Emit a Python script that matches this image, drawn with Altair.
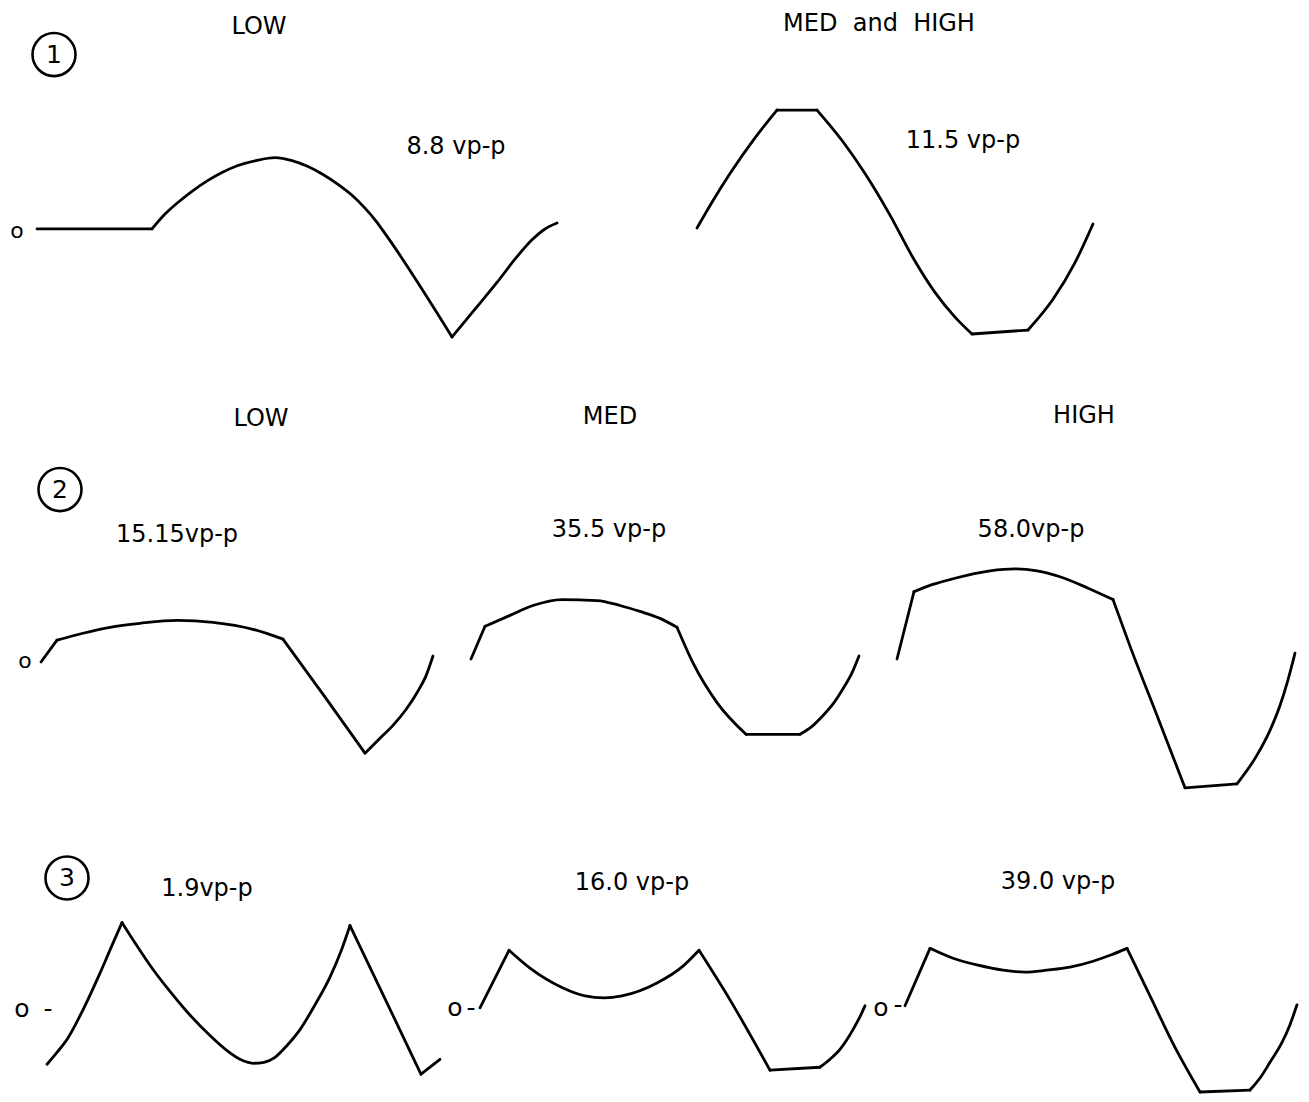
import altair as alt
import pandas as pd

# ---- Traced waveforms (horizontal position, vertical level) ----
r1_low_x = [37, 152, 165, 177, 192, 208, 222, 238, 256, 275, 292, 308, 323, 338, 352, 365, 376, 386,
            452, 475, 497, 517, 532, 545, 557]
r1_low_y = [229, 229, 214, 203, 191, 180, 172, 165, 160, 157, 160, 166, 174, 184, 195, 208, 221, 235,
            338, 310, 283, 257, 240, 229, 223]

r1_mh_x = [697, 712, 730, 755, 777, 817, 843, 865, 890, 913, 935, 955, 972, 1028, 1053, 1075, 1093]
r1_mh_y = [228, 202, 173, 137, 109, 109, 141, 173, 215, 258, 293, 318, 335, 331, 300, 263, 224]

r2_low_x = [41, 57, 83, 110, 140, 177, 213, 253, 283, 324, 365, 380, 393, 406, 417, 426, 433]
r2_low_y = [666, 644, 637, 631, 627, 624, 626, 633, 643, 700, 758, 743, 730, 714, 697, 680, 660]

r2_med_x = [471, 485, 510, 533, 562, 597, 620, 640, 660, 677, 693, 717, 746, 800, 812, 823, 834, 843, 852, 859]
r2_med_y = [663, 630, 619, 609, 603, 604, 609, 615, 622, 631, 667, 707, 739, 739, 731, 720, 707, 693, 677, 660]

r2_high_x = [897, 914, 932, 953, 990, 1015, 1037, 1060, 1087, 1113, 1130, 1157, 1185, 1237, 1257, 1270, 1280, 1288, 1295]
r2_high_y = [663, 595, 588, 582, 574, 572, 574, 580, 591, 603, 650, 720, 793, 789, 760, 735, 710, 684, 657]

r3_low_x = [47, 57, 67, 83, 100, 112, 122, 136, 150, 168, 187, 210, 228, 240, 253, 264, 275, 287, 300,
            315, 330, 341, 350, 386, 421, 440]
r3_low_y = [1072, 1060, 1047, 1017, 980, 952, 929, 951, 972, 996, 1019, 1043, 1059, 1067, 1071, 1070, 1065,
            1053, 1037, 1012, 984, 958, 932, 1008, 1082, 1067]

r3_med_x = [480, 509, 530, 563, 585, 604, 622, 657, 683, 699, 730, 770, 820, 830, 840, 847, 853, 860, 865]
r3_med_y = [1015, 957, 975, 995, 1003, 1005, 1003, 990, 973, 957, 1007, 1078, 1075, 1067, 1057, 1047, 1037, 1024, 1013]

r3_high_x = [905, 930, 953, 978, 1003, 1025, 1047, 1070, 1093, 1110, 1127, 1150, 1175, 1200, 1250, 1262, 1270,
             1282, 1290, 1297]
r3_high_y = [1013, 955, 965, 972, 977, 979, 977, 974, 968, 962, 955, 1003, 1055, 1100, 1098, 1083, 1070,
             1050, 1032, 1012]

# sharp corners of each trace (index into its point list); smooth between them
traces = {
    "1-LOW": (r1_low_x, r1_low_y, [1, 18]),
    "1-MED and HIGH": (r1_mh_x, r1_mh_y, [4, 5, 12, 13]),
    "2-LOW": (r2_low_x, r2_low_y, [1, 8, 10]),
    "2-MED": (r2_med_x, r2_med_y, [1, 9, 12, 13]),
    "2-HIGH": (r2_high_x, r2_high_y, [1, 9, 12, 13]),
    "3-LOW": (r3_low_x, r3_low_y, [6, 22, 24]),
    "3-MED": (r3_med_x, r3_med_y, [1, 9, 11, 12]),
    "3-HIGH": (r3_high_x, r3_high_y, [1, 10, 13, 14]),
}

# ---- Text annotations ----
label_text = ["LOW", "MED\u00a0\u00a0and\u00a0\u00a0HIGH", "8.8 vp-p", "11.5 vp-p",
              "LOW", "MED", "HIGH", "15.15vp-p", "35.5 vp-p", "58.0vp-p",
              "1.9vp-p", "16.0 vp-p", "39.0 vp-p"]
label_x = [259, 879, 456, 963, 261, 610, 1084, 177, 609, 1031, 207, 632, 1058]
label_y = [25, 22, 146, 140, 421, 419, 418, 538, 533, 533, 895, 889, 888]

zero_text = ["o", "o"]
zero_x = [17, 25]
zero_y = [231, 665]

zero3_text = ["o", "-", "o", "-", "o", "-"]
zero3_x = [22, 48, 455, 471, 881, 898]
zero3_y = [1016, 1016, 1015, 1015, 1015, 1012]

circ_num = ["1", "2", "3"]
circ_x = [54, 60, 67]
circ_y = [53, 492, 884]

# ---- Build tables ----
rows = []
for name, (xs_, ys_, corners) in traces.items():
    cuts = [0] + corners + [len(xs_) - 1]
    for p in range(len(cuts) - 1):
        for i in range(cuts[p], cuts[p + 1] + 1):
            rows.append({"piece": f"{name}#{p}", "i": i, "x": xs_[i], "y": ys_[i]})
lines_df = pd.DataFrame(rows)
labels_df = pd.DataFrame({"t": label_text, "x": label_x, "y": label_y})
zeros_df = pd.DataFrame({"t": zero_text, "x": zero_x, "y": zero_y})
zeros3_df = pd.DataFrame({"t": zero3_text, "x": zero3_x, "y": zero3_y})
circ_df = pd.DataFrame({"t": circ_num, "x": circ_x, "y": circ_y})

xs = alt.Scale(domain=[8, 1301], nice=False, zero=False)
ys = alt.Scale(domain=[6, 1102], nice=False, zero=False, reverse=True)
X = alt.X("x:Q", scale=xs, axis=None)
Y = alt.Y("y:Q", scale=ys, axis=None)
FONT = "DejaVu Sans"

lines = alt.Chart(lines_df).mark_line(
    color="black", strokeWidth=2.8, strokeJoin="round", strokeCap="round", interpolate="monotone"
).encode(x=X, y=Y, detail="piece:N", order=alt.Order("i:Q"))

circles = alt.Chart(circ_df).mark_point(
    shape="circle", filled=False, color="black", strokeWidth=2.6, size=1850, opacity=1
).encode(x=X, y=Y)

circ_text = alt.Chart(circ_df).mark_text(
    font=FONT, fontSize=25, color="black", align="center", baseline="middle"
).encode(x=X, y=Y, text="t:N")

labels = alt.Chart(labels_df).mark_text(
    font=FONT, fontSize=24, color="black", align="center", baseline="middle"
).encode(x=X, y=Y, text="t:N")

zeros = alt.Chart(zeros_df).mark_text(
    font=FONT, fontSize=22, color="black", align="center", baseline="middle"
).encode(x=X, y=Y, text="t:N")

zeros3 = alt.Chart(zeros3_df).mark_text(
    font=FONT, fontSize=25, color="black", align="center", baseline="middle"
).encode(x=X, y=Y, text="t:N")

chart = alt.layer(lines, circles, circ_text, labels, zeros, zeros3).properties(
    width=1293,
    height=1086,
    autosize=alt.AutoSizeParams(type="fit", contains="padding"),
    padding=0,
    background="white",
).configure_view(stroke=None)

chart.save("out.html", embed_options={"renderer": "svg", "actions": False})
